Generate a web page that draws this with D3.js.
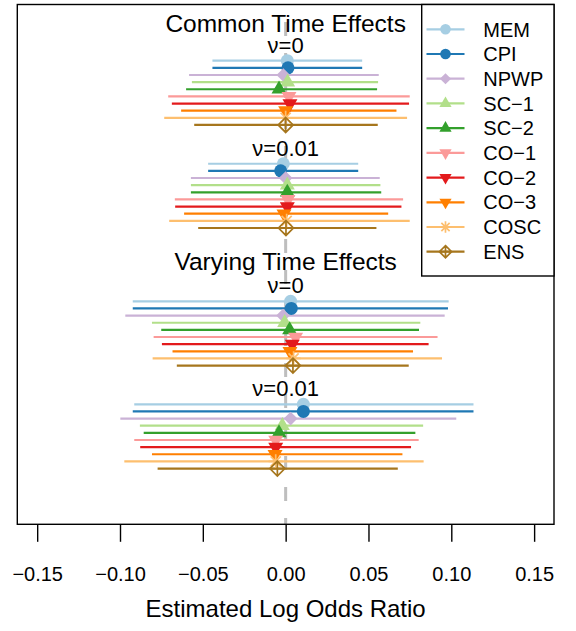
<!DOCTYPE html>
<html>
<head>
<meta charset="utf-8">
<script src="https://cdn.jsdelivr.net/npm/d3@7"></script>
<style>
  body { margin: 0; background: #fff; }
  svg { display: block; font-family: "Liberation Sans", Arial, Helvetica, sans-serif; }
</style>
</head>
<body>
<svg id="chart" width="576" height="631"></svg>
<script>
// methods, in drawing / legend order
const methods = ["MEM", "CPI", "NPWP", "SC\u22121", "SC\u22122", "CO\u22121", "CO\u22122", "CO\u22123", "COSC", "ENS"];
const shapes  = ["circle", "circle", "diamond", "tri", "tri", "tridown", "tridown", "tridown", "star", "ens"];
const colors  = ["#A6CEE3", "#1F78B4", "#CAB2D6", "#B2DF8A", "#33A02C", "#FB9A99", "#E31A1C", "#FF7F00", "#FDBF6F", "#A6761D"];

// Common time effects, nu = 0
const commonNu0Est = [0.001, 0.0014, -0.0014, 0.0012, -0.004, 0.002, 0.0026, 0.0, 0.0, 0.0];
const commonNu0Lo  = [-0.0442, -0.0442, -0.0583, -0.0566, -0.0601, -0.0709, -0.0687, -0.0631, -0.0733, -0.0552];
const commonNu0Hi  = [0.0462, 0.0462, 0.0562, 0.0558, 0.0552, 0.0749, 0.0745, 0.0669, 0.0733, 0.0556];

// Common time effects, nu = 0.01
const commonNu1Est = [-0.0014, -0.003, 0.0, 0.001, 0.001, 0.0014, 0.001, -0.001, 0.0006, 0.0002];
const commonNu1Lo  = [-0.0468, -0.0468, -0.0572, -0.0572, -0.0572, -0.0669, -0.0667, -0.0613, -0.0703, -0.0528];
const commonNu1Hi  = [0.0438, 0.0438, 0.0568, 0.0572, 0.0577, 0.0709, 0.0699, 0.0619, 0.0749, 0.0548];

// Varying time effects, nu = 0
const varyNu0Est = [0.003, 0.0034, -0.0016, -0.0006, 0.0024, 0.006, 0.004, 0.0026, 0.0048, 0.0044];
const varyNu0Lo  = [-0.0923, -0.0923, -0.0968, -0.0807, -0.0751, -0.0797, -0.0747, -0.0683, -0.0803, -0.0657];
const varyNu0Hi  = [0.0984, 0.098, 0.096, 0.0813, 0.0805, 0.0917, 0.0863, 0.0769, 0.0944, 0.0743];

// Varying time effects, nu = 0.01
const varyNu1Est = [0.0107, 0.0107, 0.003, -0.002, -0.004, -0.006, -0.006, -0.0064, -0.006, -0.005];
const varyNu1Lo  = [-0.0914, -0.0923, -0.0998, -0.088, -0.0857, -0.0914, -0.0878, -0.0807, -0.0974, -0.0773];
const varyNu1Hi  = [0.1134, 0.1134, 0.103, 0.083, 0.0783, 0.0803, 0.0757, 0.0705, 0.0833, 0.0677];

const xTicks = [-0.15, -0.10, -0.05, 0.00, 0.05, 0.10, 0.15];
const groupLabels = ["\u03bd=0", "\u03bd=0.01", "\u03bd=0", "\u03bd=0.01"];
const sectionTitles = ["Common Time Effects", "Varying Time Effects"];

const groups = [
  { est: commonNu0Est, lo: commonNu0Lo, hi: commonNu0Hi, start: 0 },
  { est: commonNu1Est, lo: commonNu1Lo, hi: commonNu1Hi, start: 14.43 },
  { est: varyNu0Est,   lo: varyNu0Lo,   hi: varyNu0Hi,   start: 33.7 },
  { est: varyNu1Est,   lo: varyNu1Lo,   hi: varyNu1Hi,   start: 48.12 }
];
const titleRows = [-3.95, 29.31];

const svg = d3.select("#chart");
const box = { left: 17.3, right: 554, top: 4.5, bottom: 524.3 };

const x = d3.scaleLinear().domain([-0.162, 0.162]).range([box.left, box.right]);
const y = d3.scaleLinear().domain([0, 1]).range([60.7, 67.84]);

// marker paths
function markerPath(shape, s) {
  const p = d3.path();
  if (shape === "circle") {
    p.arc(0, 0, s, 0, 2 * Math.PI);
  } else if (shape === "diamond") {
    const d = s * 1.05;
    p.moveTo(0, -d); p.lineTo(d, 0); p.lineTo(0, d); p.lineTo(-d, 0); p.closePath();
  } else if (shape === "tri") {
    const r = s * 1.33;
    p.moveTo(0, -r); p.lineTo(r * 0.866, r / 2); p.lineTo(-r * 0.866, r / 2); p.closePath();
  } else if (shape === "tridown") {
    const r = s * 1.33;
    p.moveTo(0, r); p.lineTo(r * 0.866, -r / 2); p.lineTo(-r * 0.866, -r / 2); p.closePath();
  } else if (shape === "star") {
    const a = s * 1.1, b = a * 0.707;
    p.moveTo(-a, 0); p.lineTo(a, 0);
    p.moveTo(0, -a); p.lineTo(0, a);
    p.moveTo(-b, -b); p.lineTo(b, b);
    p.moveTo(-b, b); p.lineTo(b, -b);
  } else if (shape === "ens") {
    const d = s * 1.15;
    p.moveTo(0, -d); p.lineTo(d, 0); p.lineTo(0, d); p.lineTo(-d, 0); p.closePath();
    p.moveTo(-d, 0); p.lineTo(d, 0);
    p.moveTo(0, -d); p.lineTo(0, d);
  }
  return p.toString();
}

function drawMarker(g, shape, color, cx, cy, s) {
  const filled = shape !== "star" && shape !== "ens";
  g.append("path")
    .attr("d", markerPath(shape, s))
    .attr("transform", `translate(${cx},${cy})`)
    .attr("fill", filled ? color : "none")
    .attr("stroke", filled ? "none" : color)
    .attr("stroke-width", 1.7);
}

svg.append("clipPath").attr("id", "clip")
  .append("rect")
  .attr("x", box.left).attr("y", box.top)
  .attr("width", box.right - box.left).attr("height", box.bottom - box.top);

// dashed zero line
svg.append("line")
  .attr("x1", x(0)).attr("x2", x(0))
  .attr("y1", box.top).attr("y2", box.bottom)
  .attr("stroke", "#BEBEBE")
  .attr("stroke-width", 3)
  .attr("stroke-dasharray", "14,17")
  .attr("stroke-dashoffset", 13.5);

const plot = svg.append("g").attr("clip-path", "url(#clip)");

groups.forEach((grp, gi) => {
  const segs = plot.append("g");
  methods.forEach((m, i) => {
    segs.append("line")
      .attr("x1", x(grp.lo[i])).attr("x2", x(grp.hi[i]))
      .attr("y1", y(grp.start + i)).attr("y2", y(grp.start + i))
      .attr("stroke", colors[i])
      .attr("stroke-width", 2.2);
  });
  const pts = plot.append("g");
  methods.forEach((m, i) => {
    drawMarker(pts, shapes[i], colors[i], x(grp.est[i]), y(grp.start + i), 6.5);
  });

  svg.append("text")
    .attr("x", x(0))
    .attr("y", y(grp.start) - 8)
    .attr("text-anchor", "middle")
    .attr("font-size", 22)
    .text(groupLabels[gi]);
});

sectionTitles.forEach((t, i) => {
  svg.append("text")
    .attr("x", x(0))
    .attr("y", y(titleRows[i]))
    .attr("text-anchor", "middle")
    .attr("font-size", 24.5)
    .text(t);
});

// plot frame
svg.append("rect")
  .attr("x", box.left).attr("y", box.top)
  .attr("width", box.right - box.left).attr("height", box.bottom - box.top)
  .attr("fill", "none").attr("stroke", "#000").attr("stroke-width", 1.4);

// x axis
const xAxis = d3.axisBottom(x)
  .tickValues(xTicks)
  .tickSize(17.5)
  .tickPadding(25)
  .tickFormat(d => d3.format(".2f")(d).replace("-", "\u2212"));

const ax = svg.append("g")
  .attr("transform", `translate(0,${box.bottom})`)
  .call(xAxis);
ax.select(".domain").remove();
ax.selectAll(".tick line").attr("stroke", "#000").attr("stroke-width", 1.4);
ax.selectAll(".tick text")
  .attr("fill", "#000")
  .attr("font-size", 20)
  .attr("font-family", "Liberation Sans, Arial, sans-serif");

svg.append("text")
  .attr("x", (box.left + box.right) / 2)
  .attr("y", 616.5)
  .attr("text-anchor", "middle")
  .attr("font-size", 24)
  .text("Estimated Log Odds Ratio");

// legend
const leg = svg.append("g");
leg.append("rect")
  .attr("x", 421.7).attr("y", box.top)
  .attr("width", box.right - 421.7).attr("height", 276 - box.top)
  .attr("fill", "#fff").attr("stroke", "#000").attr("stroke-width", 1.4);

const legY = d3.scaleLinear().domain([0, 9]).range([29.3, 251.7]);
methods.forEach((m, i) => {
  const yy = legY(i);
  leg.append("line")
    .attr("x1", 426.5).attr("x2", 464.5)
    .attr("y1", yy).attr("y2", yy)
    .attr("stroke", colors[i]).attr("stroke-width", 2.2);
  drawMarker(leg, shapes[i], colors[i], 445.5, yy, 5.3);
  leg.append("text")
    .attr("x", 483.3)
    .attr("y", yy + 7.2)
    .attr("font-size", 20)
    .text(m);
});
</script>
</body>
</html>
